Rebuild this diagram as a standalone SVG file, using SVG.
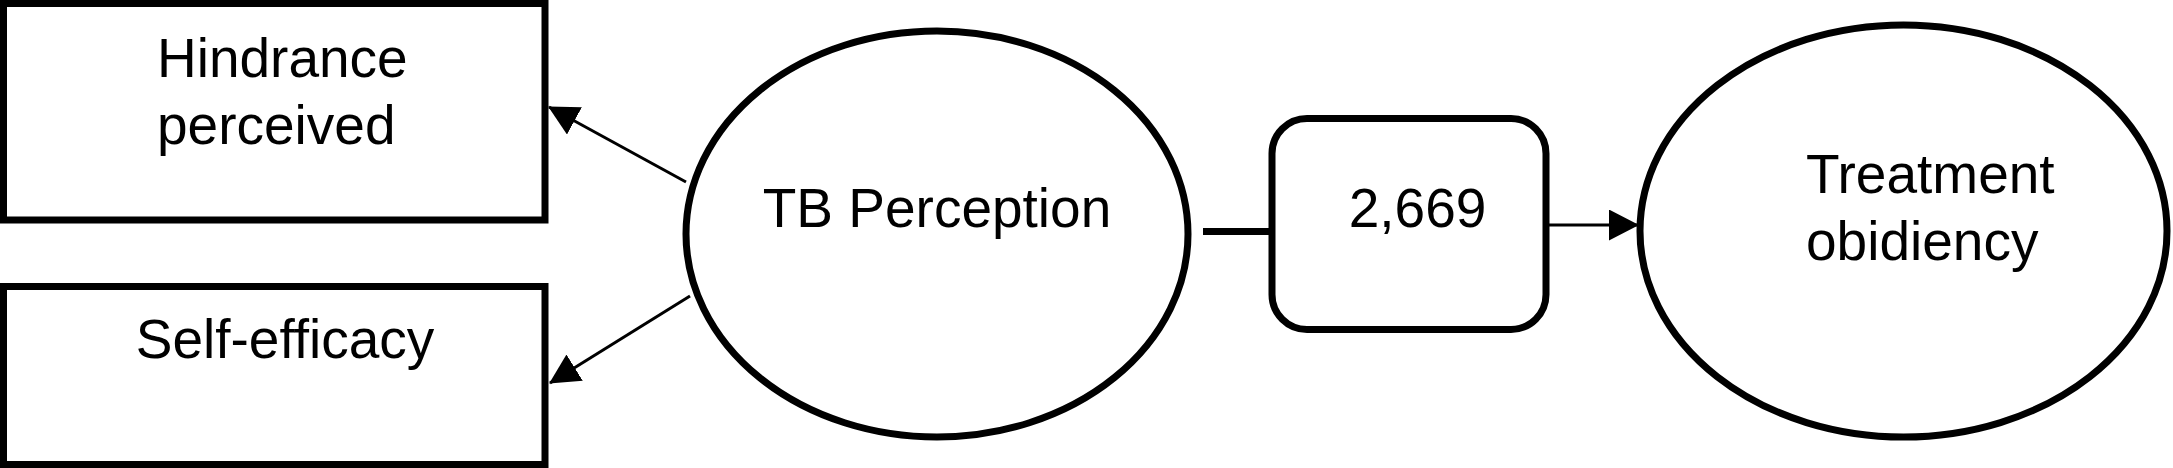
<svg xmlns="http://www.w3.org/2000/svg" width="2173" height="468" viewBox="0 0 2173 468">
<style>
.shape{fill:#fff;stroke:#000;stroke-width:7}
.lbl{font-family:"Liberation Sans",Arial,sans-serif;font-size:55px;fill:#000}
.conn{stroke:#000;stroke-width:3;fill:none}
</style>
<defs>
<marker id="ah" markerUnits="userSpaceOnUse" markerWidth="30" markerHeight="31" refX="29" refY="15.5" orient="auto" viewBox="0 0 30 31">
<path d="M0,0 L30,15.5 L0,31 z" fill="#000"/>
</marker>
</defs>
<rect width="2173" height="468" fill="#fff"/>
<g id="connectors">
<line class="conn" x1="686" y1="182" x2="549" y2="107" marker-end="url(#ah)"/>
<line class="conn" x1="690" y1="296" x2="550" y2="383" marker-end="url(#ah)"/>
<line x1="1203" y1="231.5" x2="1272" y2="231.5" stroke="#000" stroke-width="7"/>
<line class="conn" x1="1549" y1="225" x2="1638" y2="225" stroke-width="3.5" marker-end="url(#ah)"/>
</g>
<g id="hindrance">
<rect class="shape" x="3.5" y="3.5" width="541.5" height="216.5"/>
<text class="lbl" x="157" y="77">Hindrance</text>
<text class="lbl" x="157" y="144">perceived</text>
</g>
<g id="selfefficacy">
<rect class="shape" x="3.5" y="286.5" width="541.5" height="178"/>
<text class="lbl" x="285" y="358" text-anchor="middle">Self-efficacy</text>
</g>
<g id="tbperception">
<ellipse class="shape" cx="937" cy="234" rx="251" ry="203"/>
<text class="lbl" x="937" y="227" text-anchor="middle">TB Perception</text>
</g>
<g id="value">
<rect class="shape" x="1272" y="118.5" width="274" height="211" rx="35" ry="35"/>
<text class="lbl" x="1417.5" y="227" text-anchor="middle">2,669</text>
</g>
<g id="treatment">
<ellipse class="shape" cx="1903.5" cy="231" rx="263.5" ry="206"/>
<text class="lbl" x="1806" y="193">Treatment</text>
<text class="lbl" x="1806" y="260">obidiency</text>
</g>
</svg>
